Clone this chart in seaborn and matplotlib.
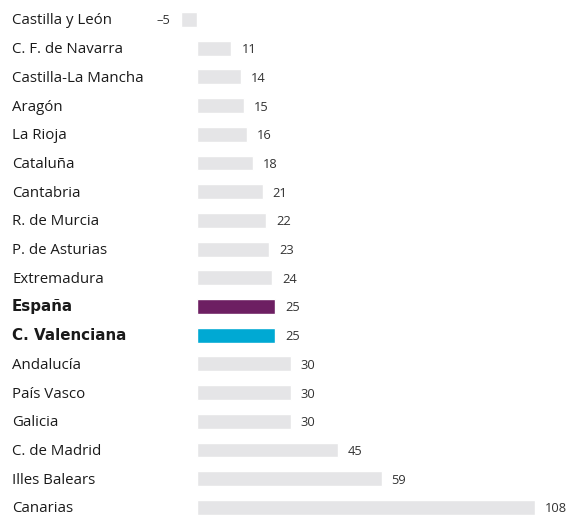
import matplotlib
matplotlib.use("Agg")
import matplotlib.pyplot as plt
import matplotlib.transforms as mtransforms
import seaborn as sns
import pandas as pd

regions = ["Castilla y León", "C. F. de Navarra", "Castilla-La Mancha", "Aragón",
           "La Rioja", "Cataluña", "Cantabria", "R. de Murcia", "P. de Asturias",
           "Extremadura", "España", "C. Valenciana", "Andalucía", "País Vasco",
           "Galicia", "C. de Madrid", "Illes Balears", "Canarias"]
values = [-5, 11, 14, 15, 16, 18, 21, 22, 23, 24, 25, 25, 30, 30, 30, 45, 59, 108]
highlight = {"España": "#6d1f62", "C. Valenciana": "#00a9d3"}

grey = "#e5e5e7"
palette = {r: highlight.get(r, grey) for r in regions}
df = pd.DataFrame({"region": regions, "value": values})

sns.set_style("white")
plt.rcParams["font.family"] = ["Open Sans", "DejaVu Sans"]

W, H = 573, 515
fig = plt.figure(figsize=(W / 100, H / 100), dpi=100)
# zero at x=197px, 108 at x=535px
px_per_unit = (535 - 197) / 108
x0_px = 197 + (-5) * px_per_unit
ax = fig.add_axes([x0_px / W, 0, (535 - x0_px) / W, 1])

sns.barplot(data=df, y="region", x="value", hue="region", palette=palette,
            order=regions, orient="h", width=0.52, saturation=1, legend=False, ax=ax)

ax.set_xlim(-5, 108)
# row centres at 19.5px + 28.7px * i from top
row0, step = 19.5, 28.7
ax.set_ylim((H - row0) / step, -row0 / step)
ax.axis("off")

pt = 0.72  # points per pixel at dpi 100
trans = mtransforms.blended_transform_factory(fig.transFigure, ax.transData)
for i, (r, v) in enumerate(zip(regions, values)):
    if r in highlight:
        style = dict(fontsize=10.9, fontweight="bold", family="DejaVu Sans")
    else:
        style = dict(fontsize=10.8)
    ax.annotate(r, (12 / W, i), xycoords=trans, xytext=(0, -5 * pt),
                textcoords="offset points", ha="left", va="baseline",
                color="#1a1a1a", **style)
    label = str(v) if v >= 0 else "\u2013" + str(-v)
    dx = 10 if v >= 0 else -11
    ax.annotate(label, (v, i), xytext=(dx * pt, -5 * pt), textcoords="offset points",
                ha="left" if v >= 0 else "right", va="baseline", fontsize=9.3,
                color="#333333")

fig.savefig("out.png", dpi=100)
